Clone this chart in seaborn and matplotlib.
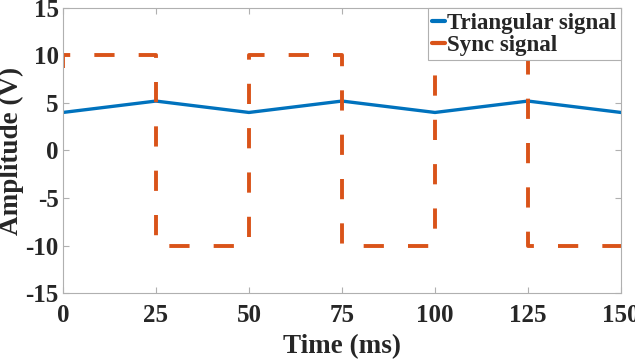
import pandas as pd
import matplotlib
matplotlib.use("Agg")
import matplotlib.pyplot as plt
import seaborn as sns

### DATA

tri_time = [0, 25, 50, 75, 100, 125, 150]
tri_amp = [4.0, 5.2, 4.0, 5.2, 4.0, 5.2, 4.0]

sync_time = [0, 0, 25, 25, 50, 50, 75, 75, 100, 100, 125, 125, 150]
sync_amp = [8.7, 10, 10, -10, -10, 10, 10, -10, -10, 10, 10, -10, -10]

x_ticks = [0, 25, 50, 75, 100, 125, 150]
y_ticks = [-15, -10, -5, 0, 5, 10, 15]

tri_df = pd.DataFrame({"Time": tri_time, "Amp": tri_amp})
sync_df = pd.DataFrame({"Time": sync_time, "Amp": sync_amp})

### STYLE

sns.set_style("ticks")
plt.rcParams["font.family"] = ["Liberation Serif", "DejaVu Serif"]
plt.rcParams["font.weight"] = "bold"
plt.rcParams["axes.unicode_minus"] = False

### PLOT

fig = plt.figure(figsize=(6.35, 3.6), dpi=100)
ax = fig.add_axes([0.099, 0.186, 0.879, 0.792])

sns.lineplot(data=tri_df, x="Time", y="Amp", ax=ax, color="#0072BD",
             linewidth=2.4, label="Triangular signal", sort=False,
             estimator=None)
sns.lineplot(data=sync_df, x="Time", y="Amp", ax=ax, color="#D95319",
             linewidth=2.8, label="Sync signal", sort=False,
             estimator=None)
ax.lines[1].set_dashes([5.2, 6.2])

ax.set_xlim(0, 150)
ax.set_ylim(-15, 15)
ax.set_xticks(x_ticks)
ax.set_yticks(y_ticks)
ax.tick_params(direction="in", length=4, color="#b0b0b0", labelsize=18,
               top=True, right=True, pad=3)
ax.tick_params(axis="x", pad=8)
for lbl in ax.get_xticklabels() + ax.get_yticklabels():
    lbl.set_fontweight("bold")
for s in ax.spines.values():
    s.set_color("#b0b0b0")
    s.set_linewidth(0.8)

ax.set_xlabel("Time (ms)", fontsize=19.5, fontweight="bold", labelpad=5)
ax.set_ylabel("Amplitude (V)", fontsize=19.5, fontweight="bold", labelpad=1)

leg = ax.legend(loc="upper right", handlelength=0.55,
                handletextpad=0.1, borderpad=0.2, labelspacing=0.05,
                borderaxespad=0, fancybox=False, framealpha=1,
                prop={"weight": "bold", "size": 16.5})
leg.get_frame().set_edgecolor("#b0b0b0")
leg.get_frame().set_linewidth(0.8)
for h in leg.get_lines():
    h.set_linestyle("-")
    h.set_linewidth(3)

plt.savefig("out.png", dpi=100)
